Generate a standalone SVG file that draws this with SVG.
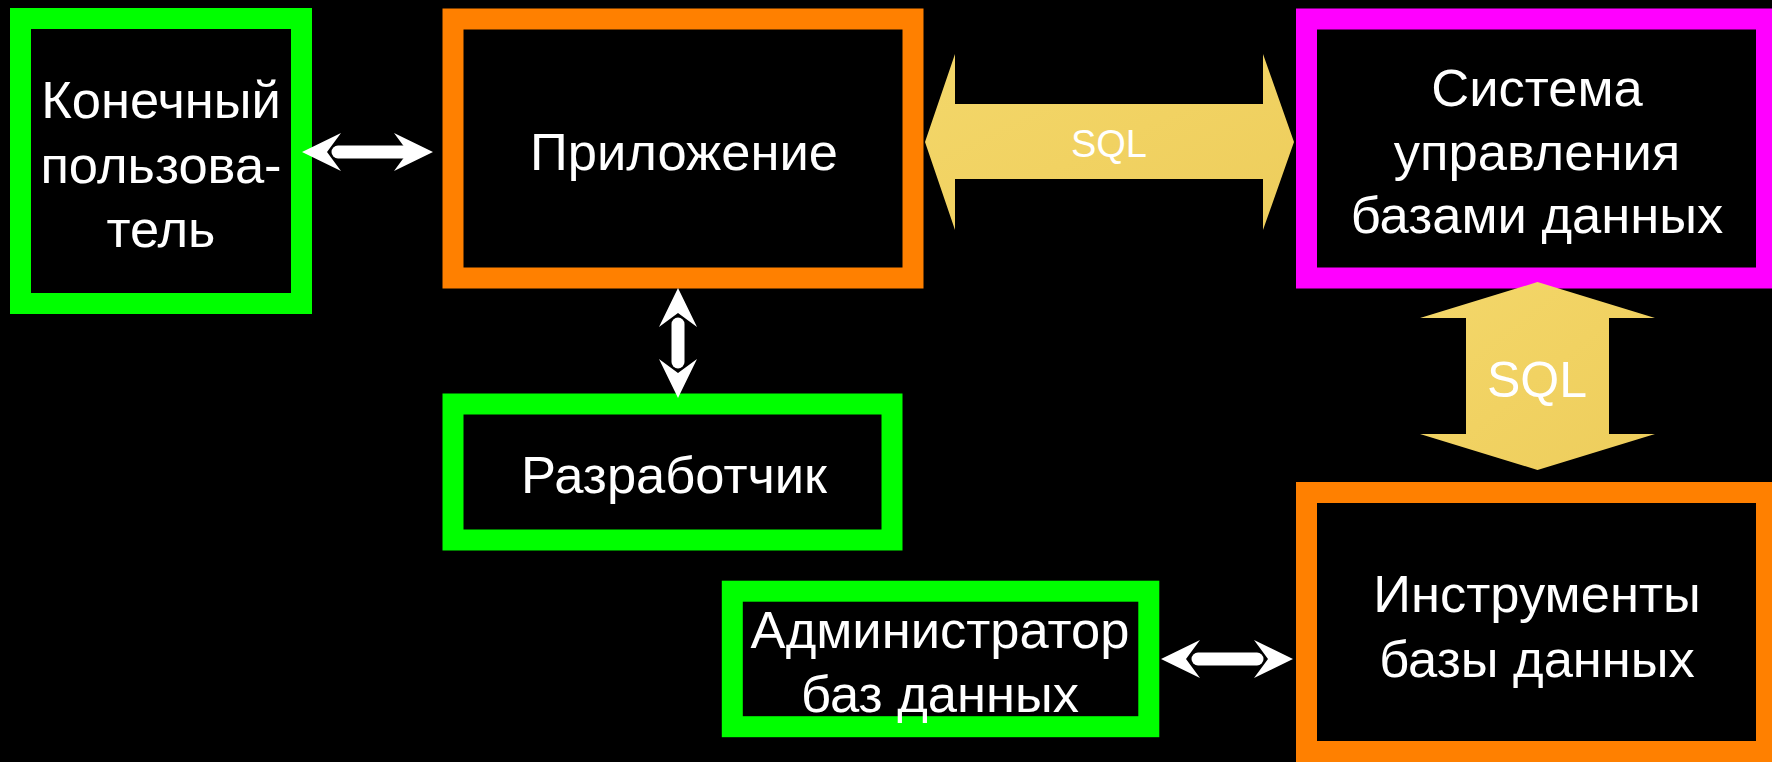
<svg xmlns="http://www.w3.org/2000/svg" xmlns:xlink="http://www.w3.org/1999/xlink" width="1772" height="762" viewBox="0 0 1772 762">
<style>
.box{fill:#000;stroke-width:21}
.green{stroke:#00FF00}
.orange{stroke:#FF8000}
.magenta{stroke:#FF00FF}
.t{font-family:"Liberation Sans",Arial,sans-serif;font-size:52.5px;fill:#fff;text-anchor:middle}
.bar{stroke:#fff;stroke-width:13;stroke-linecap:round;fill:none}
.gold{fill:url(#goldGrad)}
</style>
<defs>
<linearGradient id="goldGrad" x1="0" y1="0" x2="1" y2="1">
<stop offset="0" stop-color="#F3D76A"/>
<stop offset="0.5" stop-color="#F1D262"/>
<stop offset="1" stop-color="#EDCD5C"/>
</linearGradient>
<path id="head" d="M0,0 L-39,-19 L-25,0 L-39,19 Z" fill="#fff"/>
</defs>
<rect width="1772" height="762" fill="#000"/>

<g id="end-user">
<rect class="box green" x="20.5" y="18.5" width="281" height="285"/>
<text class="t" x="161" y="118">Конечный</text>
<text class="t" x="161" y="183">пользова-</text>
<text class="t" x="161" y="247">тель</text>
</g>

<g id="application">
<rect class="box orange" x="453" y="19" width="460" height="259"/>
<text class="t" x="684" y="170">Приложение</text>
</g>

<g id="dbms">
<rect class="box magenta" x="1306.5" y="19" width="460" height="259"/>
<text class="t" x="1537" y="106">Система</text>
<text class="t" x="1537" y="170">управления</text>
<text class="t" x="1537" y="233">базами данных</text>
</g>

<g id="developer">
<rect class="box green" x="453" y="404" width="439" height="136"/>
<text class="t" x="674" y="493">Разработчик</text>
</g>

<g id="db-tools">
<rect class="box orange" x="1306.5" y="492.5" width="460" height="259"/>
<text class="t" x="1537" y="612">Инструменты</text>
<text class="t" x="1537" y="677">базы данных</text>
</g>

<g id="dba">
<rect class="box green" x="732.3" y="591.2" width="416.5" height="135.5"/>
<text class="t" x="940" y="648">Администратор</text>
<text class="t" x="940" y="712">баз данных</text>
</g>

<g id="connectors">
<g id="sql-horizontal">
<polygon class="gold" points="925,142 955,54 955,104 1263,104 1263,54 1294,142 1263,230 1263,179 955,179 955,230"/>
<text class="t" x="1109" y="157" style="font-size:38px">SQL</text>
</g>
<g id="sql-vertical">
<polygon class="gold" points="1537.5,282 1655,318 1609,318 1609,434 1655,434 1537.5,470 1420,434 1466,434 1466,318 1420,318"/>
<text class="t" x="1537" y="397" style="font-size:50px">SQL</text>
</g>
<g id="user-app">
<line class="bar" x1="338" y1="152" x2="403" y2="152"/>
<use xlink:href="#head" transform="translate(433,152)"/>
<use xlink:href="#head" transform="translate(302,152) rotate(180)"/>
</g>
<g id="app-dev">
<line class="bar" x1="678" y1="324" x2="678" y2="362"/>
<use xlink:href="#head" transform="translate(678,288) rotate(-90)"/>
<use xlink:href="#head" transform="translate(678,398) rotate(90)"/>
</g>
<g id="dba-tools">
<line class="bar" x1="1198" y1="659" x2="1257" y2="659"/>
<use xlink:href="#head" transform="translate(1293,659)"/>
<use xlink:href="#head" transform="translate(1161,659) rotate(180)"/>
</g>
</g>
</svg>
